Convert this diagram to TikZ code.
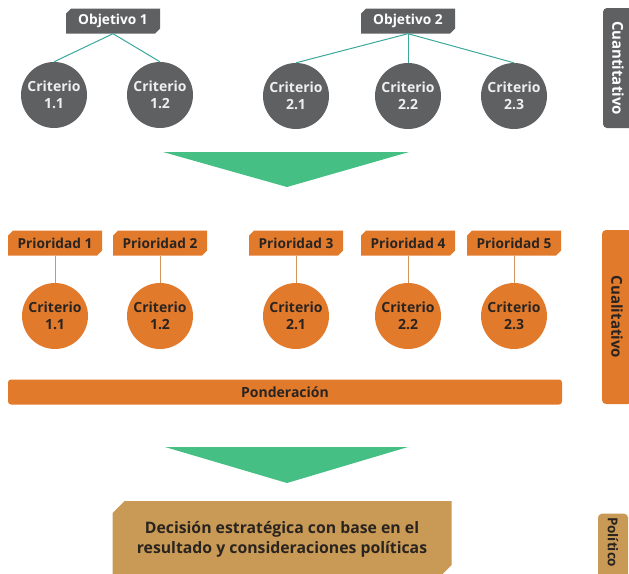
\documentclass[tikz,border=0pt]{standalone}
\usepackage{fontspec}
\setmainfont{Open Sans}
\usepackage{tikz}
\usetikzlibrary{positioning,arrows.meta,shapes.misc}
\definecolor{gris}{HTML}{5F6062}
\definecolor{verdeazul}{HTML}{3AA89B}
\definecolor{verde}{HTML}{45BF83}
\definecolor{naranja}{HTML}{E27A2C}
\definecolor{linea}{HTML}{D4945E}
\definecolor{ocre}{HTML}{C99A55}
\definecolor{texto}{HTML}{2A2420}

\begin{document}
\begin{tikzpicture}[x=1pt,y=-1pt,
            cut/.style = {chamfered rectangle, chamfered rectangle corners={north west,south east},
                   chamfered rectangle xsep=2.5pt, chamfered rectangle ysep=2.5pt,
                   minimum width=94pt, minimum height=25pt, inner sep=0pt,
                   font=\fontsize{13.7}{15}\selectfont\bfseries},
            objetivo/.style={cut, fill=gris, text=white},
            prioridad/.style={cut, fill=naranja, text=texto},
            criterio/.style={circle, minimum size=66pt, inner sep=0pt, align=center,
                   font=\fontsize{14}{16.5}\selectfont\bfseries},
            gcrit/.style={criterio, fill=gris, text=white!90!gris},
            ocrit/.style={criterio, fill=naranja, text=texto},
            tab/.style={rounded corners=4pt, rotate=-90, minimum height=30pt,
                   font=\fontsize{15}{17}\selectfont\bfseries},
            tree/.style={draw=verdeazul, line width=1pt},
            stem/.style={draw=linea, line width=1pt}
        ]
            \useasboundingbox (0,0) rectangle (629,573);

            % Cuantitativo
            \node [objetivo] (obj1) at (113,21) {Objetivo 1};
            \node [objetivo] (obj2) at (408,21) {Objetivo 2};
            \node [gcrit] (g11) at (54,95) {Criterio\\1.1};
            \node [gcrit] (g12) at (160,95) {Criterio\\1.2};
            \node [gcrit] (g21) at (296,96) {Criterio\\2.1};
            \node [gcrit] (g22) at (408,96) {Criterio\\2.2};
            \node [gcrit] (g23) at (514,96) {Criterio\\2.3};
            \node [tab, fill=gris, text=white, minimum width=120pt] (cuanti) at (618,68) {Cuantitativo};

            \fill [verde] (163,152) -- (409,152) -- (287,187) -- cycle;

            % Cualitativo
            \node [prioridad] (p1) at (55,243) {Prioridad 1};
            \node [prioridad] (p2) at (160,243) {Prioridad 2};
            \node [prioridad] (p3) at (296,243) {Prioridad 3};
            \node [prioridad] (p4) at (408,243) {Prioridad 4};
            \node [prioridad] (p5) at (514,243) {Prioridad 5};
            \node [ocrit] (o11) at (55,316) {Criterio\\1.1};
            \node [ocrit] (o12) at (160,316) {Criterio\\1.2};
            \node [ocrit] (o21) at (296,316) {Criterio\\2.1};
            \node [ocrit] (o22) at (408,316) {Criterio\\2.2};
            \node [ocrit] (o23) at (514,316) {Criterio\\2.3};
            \node [fill=naranja, rounded corners=3pt, minimum width=554pt, minimum height=25pt, inner sep=0pt,
                   text=texto, font=\fontsize{14}{16}\selectfont\bfseries] (pond) at (285,392) {Ponderación};
            \node [tab, fill=naranja, text=texto, minimum width=174pt] (cuali) at (617,317) {Cualitativo};

            \fill [verde] (165,447) -- (408,447) -- (287,483) -- cycle;

            % Politico
            \node [chamfered rectangle, chamfered rectangle corners={north west,south east},
                   chamfered rectangle xsep=6pt, chamfered rectangle ysep=6pt,
                   fill=ocre, text=texto, minimum width=339pt, minimum height=76pt, inner sep=0pt,
                   align=center, font=\fontsize{15.8}{20}\selectfont\bfseries] (decision) at (282,539)
                   {Decisión estratégica con base en el\\resultado y consideraciones políticas};
            \node [tab, fill=ocre, text=texto, text width=80pt, align=left,
                   font=\fontsize{13.5}{15}\selectfont\bfseries] (politico) at (613,557) {Político};

            % Draw edges
            \draw [tree] (obj1.south) -- (g11.north);
            \draw [tree] (obj1.south) -- (g12.north);
            \draw [tree] (obj2.south) -- (g21.north);
            \draw [tree] (obj2.south) -- (g22.north);
            \draw [tree] (obj2.south) -- (g23.north);
            \foreach \i/\c in {1/o11,2/o12,3/o21,4/o22,5/o23}
                \draw [stem] (p\i.south) -- (\c.north);
        \end{tikzpicture}
\end{document}
